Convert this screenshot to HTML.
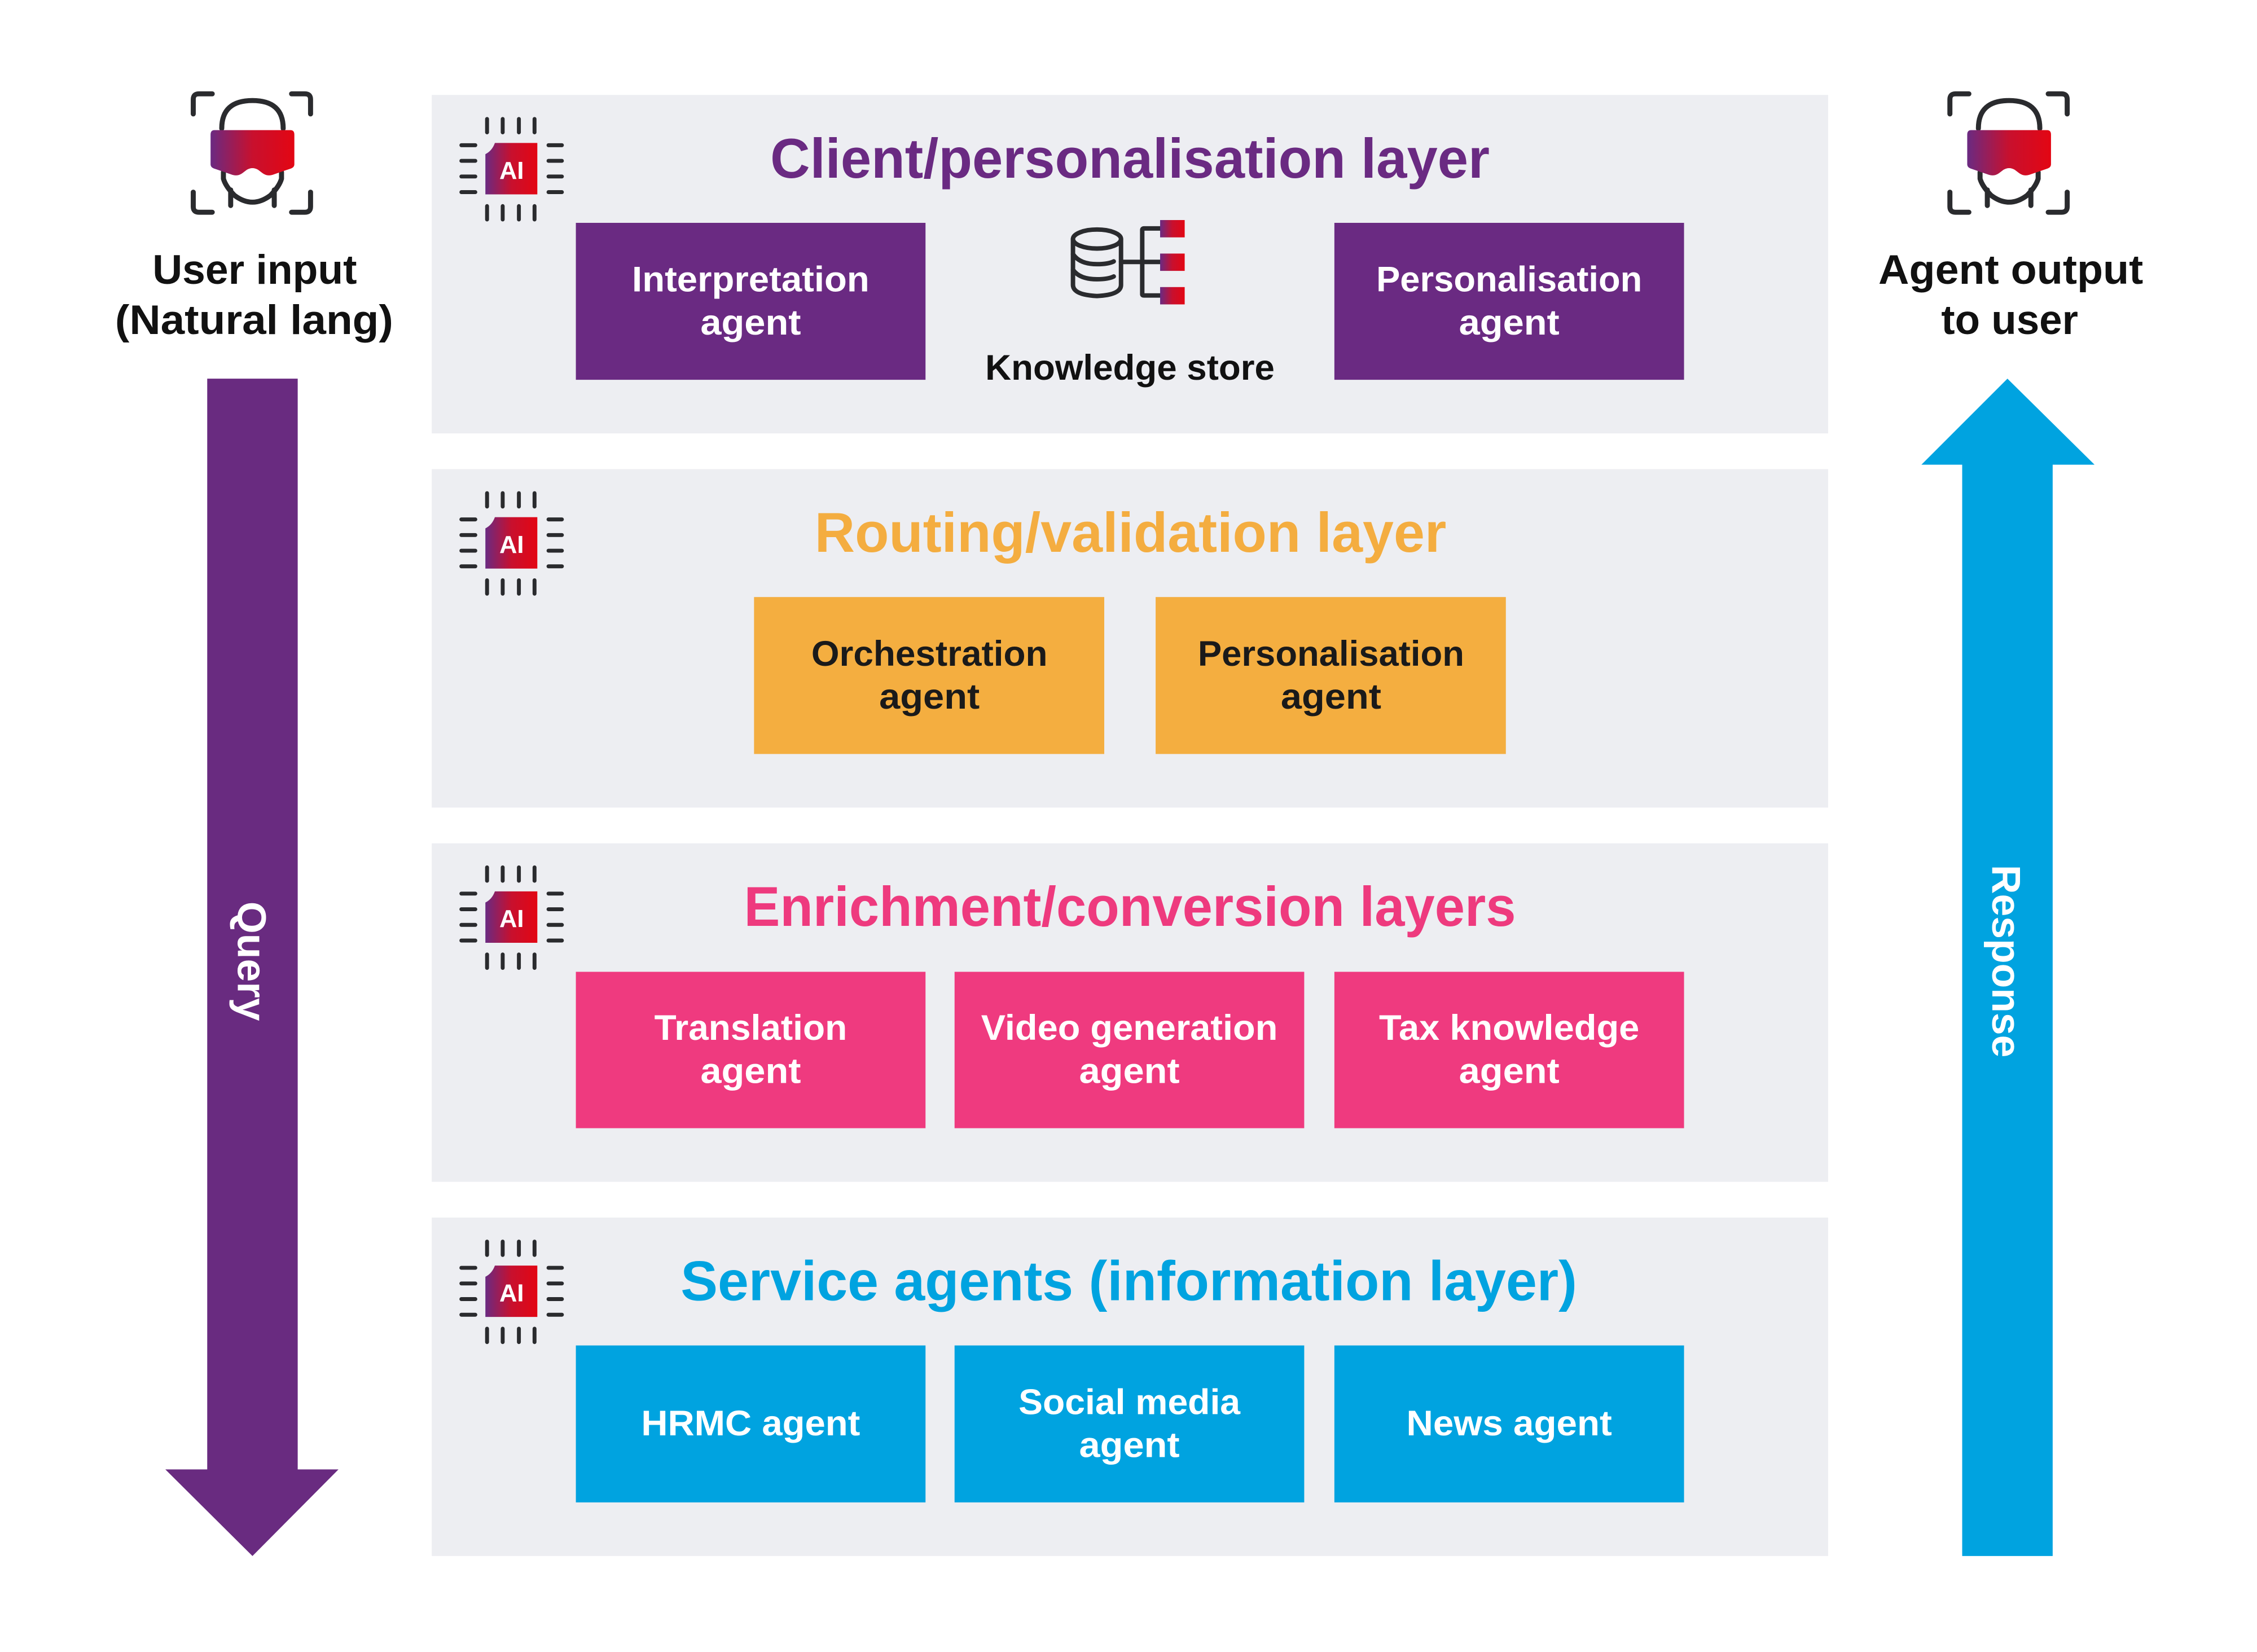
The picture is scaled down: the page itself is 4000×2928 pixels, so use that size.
<!DOCTYPE html>
<html><head><meta charset="utf-8"><style>html,body{margin:0;padding:0;background:#fff}svg{display:block}</style></head>
<body>
<svg width="4000" height="2928" viewBox="0 0 4000 2928" xmlns="http://www.w3.org/2000/svg" font-family="'Liberation Sans', sans-serif">
<defs>
<linearGradient id="g" x1="0" x2="1" y1="0" y2="0"><stop offset="0" stop-color="#6a2a82"/><stop offset="0.5" stop-color="#c8102e"/><stop offset="1" stop-color="#e30613"/></linearGradient>
<g id="chip">
  <path d="M878 256 H954 V348 H861 V276 Q873 270 878 256 Z" fill="url(#g)"/>
  <text x="908" y="320" font-size="44" font-weight="bold" fill="#fff" text-anchor="middle">AI</text>
  <g stroke="#2a2b2e" stroke-width="7" stroke-linecap="round">
    <line x1="864" y1="213" x2="864" y2="237"/><line x1="892" y1="213" x2="892" y2="237"/><line x1="921" y1="213" x2="921" y2="237"/><line x1="949" y1="213" x2="949" y2="237"/>
    <line x1="864" y1="369" x2="864" y2="393"/><line x1="892" y1="369" x2="892" y2="393"/><line x1="921" y1="369" x2="921" y2="393"/><line x1="949" y1="369" x2="949" y2="393"/>
    <line x1="818" y1="260" x2="843" y2="260"/><line x1="818" y1="288" x2="843" y2="288"/><line x1="818" y1="316" x2="843" y2="316"/><line x1="818" y1="344" x2="843" y2="344"/>
    <line x1="974" y1="260" x2="998" y2="260"/><line x1="974" y1="288" x2="998" y2="288"/><line x1="974" y1="316" x2="998" y2="316"/><line x1="974" y1="344" x2="998" y2="344"/>
  </g>
</g>
<g id="user">
  <g fill="none" stroke="#2a2b2e" stroke-width="9" stroke-linecap="round" stroke-linejoin="round">
    <path d="M346 204 V178 Q346 168 356 168 H380"/>
    <path d="M556 204 V178 Q556 168 546 168 H522"/>
    <path d="M346 344 V370 Q346 380 356 380 H380"/>
    <path d="M556 344 V370 Q556 380 546 380 H522"/>
    <path d="M397 230 Q397 180 452 180 Q507 180 507 230"/>
    <path d="M400 308 V320 Q404 334 420 350 Q436 362 452 362 Q468 362 484 350 Q500 334 504 320 V308"/>
    <line x1="413" y1="340" x2="413" y2="368"/><line x1="491" y1="340" x2="491" y2="368"/>
  </g>
  <path d="M384 233 H520 Q527 233 527 241 V294 Q527 300 520 302 L488 313 Q478 316 470 310 L462 304 Q452 298 442 304 L434 310 Q426 316 416 313 L384 302 Q377 300 377 294 V241 Q377 233 384 233 Z" fill="url(#g)"/>
</g>
</defs>
<g transform="scale(0.9899)">
<rect x="773" y="170" width="2500" height="606" fill="#edeef2"/>
<rect x="773" y="840" width="2500" height="606" fill="#edeef2"/>
<rect x="773" y="1510" width="2500" height="606" fill="#edeef2"/>
<rect x="773" y="2180" width="2500" height="606" fill="#edeef2"/>

<use href="#chip" transform="translate(8,0)"/>
<use href="#chip" transform="translate(8,670)"/>
<use href="#chip" transform="translate(8,1340)"/>
<use href="#chip" transform="translate(8,2010)"/>

<g transform="translate(0,5)">
<g font-size="100" font-weight="bold" text-anchor="middle">
<text x="2023" y="313" fill="#6a2a82" textLength="1288" lengthAdjust="spacingAndGlyphs">Client/personalisation layer</text>
<text x="2024" y="983" fill="#f4ad40" textLength="1131" lengthAdjust="spacingAndGlyphs">Routing/validation layer</text>
<text x="2023" y="1653" fill="#ee3a7e" textLength="1382" lengthAdjust="spacingAndGlyphs">Enrichment/conversion layers</text>
<text x="2021" y="2323" fill="#00a3e0" textLength="1605" lengthAdjust="spacingAndGlyphs">Service agents (information layer)</text>
</g>
</g>

<rect x="1031" y="399" width="626" height="281" fill="#6a2a82"/>
<rect x="2389" y="399" width="626" height="281" fill="#6a2a82"/>
<rect x="1350" y="1069" width="627" height="281" fill="#f4ae40"/>
<rect x="2069" y="1069" width="627" height="281" fill="#f4ae40"/>
<rect x="1031" y="1740" width="626" height="280" fill="#ef3a7f"/>
<rect x="1709" y="1740" width="626" height="280" fill="#ef3a7f"/>
<rect x="2389" y="1740" width="626" height="280" fill="#ef3a7f"/>
<rect x="1031" y="2409" width="626" height="281" fill="#00a3e0"/>
<rect x="1709" y="2409" width="626" height="281" fill="#00a3e0"/>
<rect x="2389" y="2409" width="626" height="281" fill="#00a3e0"/>

<g font-size="64" font-weight="bold" text-anchor="middle" fill="#fff" transform="translate(0,5)">
<text x="1344" y="517" textLength="425" lengthAdjust="spacingAndGlyphs">Interpretation</text>
<text x="1344" y="594" textLength="180" lengthAdjust="spacingAndGlyphs">agent</text>
<text x="2702" y="517" textLength="476" lengthAdjust="spacingAndGlyphs">Personalisation</text>
<text x="2702" y="594" textLength="180" lengthAdjust="spacingAndGlyphs">agent</text>
<text x="1664" y="1187" fill="#1a1a1a" textLength="423" lengthAdjust="spacingAndGlyphs">Orchestration</text>
<text x="1664" y="1264" fill="#1a1a1a" textLength="180" lengthAdjust="spacingAndGlyphs">agent</text>
<text x="2383" y="1187" fill="#1a1a1a" textLength="477" lengthAdjust="spacingAndGlyphs">Personalisation</text>
<text x="2383" y="1264" fill="#1a1a1a" textLength="180" lengthAdjust="spacingAndGlyphs">agent</text>
<text x="1344" y="1857" textLength="345" lengthAdjust="spacingAndGlyphs">Translation</text>
<text x="1344" y="1934" textLength="180" lengthAdjust="spacingAndGlyphs">agent</text>
<text x="2022" y="1857" textLength="531" lengthAdjust="spacingAndGlyphs">Video generation</text>
<text x="2022" y="1934" textLength="180" lengthAdjust="spacingAndGlyphs">agent</text>
<text x="2702" y="1857" textLength="466" lengthAdjust="spacingAndGlyphs">Tax knowledge</text>
<text x="2702" y="1934" textLength="180" lengthAdjust="spacingAndGlyphs">agent</text>
<text x="1344" y="2565" textLength="392" lengthAdjust="spacingAndGlyphs">HRMC agent</text>
<text x="2022" y="2527" textLength="397" lengthAdjust="spacingAndGlyphs">Social media</text>
<text x="2022" y="2604" textLength="180" lengthAdjust="spacingAndGlyphs">agent</text>
<text x="2702" y="2565" textLength="368" lengthAdjust="spacingAndGlyphs">News agent</text>
</g>

<g transform="translate(18,0)">
<g fill="none" stroke="#2a2b2e" stroke-width="8" stroke-linecap="round">
  <ellipse cx="1946" cy="428" rx="43" ry="17"/>
  <path d="M1903 428 V510 Q1903 528 1946 530 Q1989 528 1989 510 V428"/>
  <path d="M1903 455 Q1915 473 1946 473 Q1966 473 1976 468"/>
  <path d="M1903 483 Q1915 500 1946 500 Q1966 500 1976 495"/>
  <path d="M1989 469 H2060 M2027 469 V412 Q2027 409 2030 409 H2060 M2027 469 V527 Q2027 529 2030 529 H2060"/>
</g>
<rect x="2059" y="394" width="44" height="31" fill="url(#g)"/>
<rect x="2059" y="454" width="44" height="31" fill="url(#g)"/>
<rect x="2059" y="514" width="44" height="31" fill="url(#g)"/>
</g>
<text x="2023" y="680" font-size="64" font-weight="bold" text-anchor="middle" fill="#111" textLength="518" lengthAdjust="spacingAndGlyphs">Knowledge store</text>

<use href="#user"/>
<use href="#user" transform="translate(3145,0)"/>
<g font-size="74" font-weight="bold" text-anchor="middle" fill="#111" transform="translate(0,5)">
<text x="456" y="503" textLength="366" lengthAdjust="spacingAndGlyphs">User input</text>
<text x="455" y="593" textLength="498" lengthAdjust="spacingAndGlyphs">(Natural lang)</text>
<text x="3600" y="503" textLength="474" lengthAdjust="spacingAndGlyphs">Agent output</text>
<text x="3598" y="593" textLength="245" lengthAdjust="spacingAndGlyphs">to user</text>
</g>

<polygon points="371,678 533,678 533,2631 606,2631 452,2786 296,2631 371,2631" fill="#692b80"/>
<polygon points="3513,2786 3675,2786 3675,832 3750,832 3594,678 3440,832 3513,832" fill="#00a3e0"/>
<text transform="translate(426,1721) rotate(90)" font-size="72" font-weight="bold" fill="#fff" text-anchor="middle" textLength="214" lengthAdjust="spacingAndGlyphs">Query</text>
<text transform="translate(3567,1721) rotate(90)" font-size="72" font-weight="bold" fill="#fff" text-anchor="middle" textLength="345" lengthAdjust="spacingAndGlyphs">Response</text>
</g>
</svg>
</body></html>
